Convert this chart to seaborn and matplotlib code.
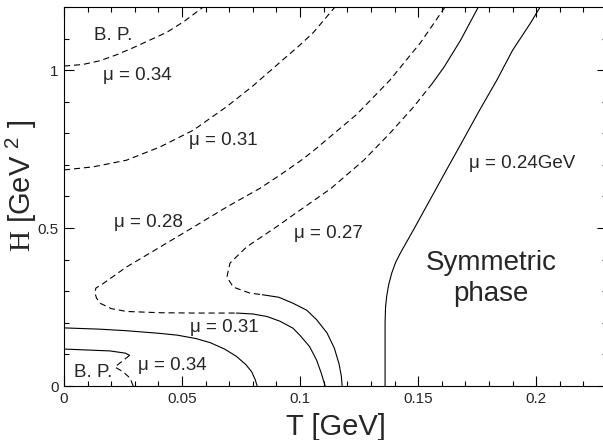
import numpy as np
import pandas as pd
import seaborn as sns
import matplotlib
matplotlib.use("Agg")
from matplotlib import pyplot as plt
from matplotlib.ticker import MultipleLocator

# phase boundaries: T [GeV], H [GeV^2]
# mu = 0.34, B.P. boundary at large H (dashed)
t_034_top = [0, 0.008, 0.0153, 0.022, 0.029, 0.036, 0.0436, 0.051, 0.059]
h_034_top = [1.013, 1.018, 1.03, 1.048, 1.07, 1.094, 1.12, 1.155, 1.2]

# mu = 0.31, B.P. boundary at large H (dashed)
t_031_top = [0, 0.0124, 0.0265, 0.0407, 0.0548, 0.069, 0.08, 0.0915, 0.1, 0.1057, 0.1148]
h_031_top = [0.684, 0.694, 0.715, 0.757, 0.81, 0.885, 0.95, 1.025, 1.08, 1.12, 1.2]

# mu = 0.28 (dashed part, then solid part)
t_028_dash = [0.1614, 0.151, 0.138, 0.124, 0.1057, 0.1, 0.0915, 0.083, 0.069, 0.0548,
              0.0407, 0.0265, 0.0167, 0.0135, 0.0131, 0.0138, 0.0153, 0.02, 0.0265,
              0.0407, 0.0548, 0.073]
h_028_dash = [1.2, 1.087, 0.968, 0.86, 0.745, 0.712, 0.668, 0.626, 0.567, 0.503,
              0.44, 0.377, 0.325, 0.31, 0.294, 0.278, 0.262, 0.245, 0.236,
              0.232, 0.231, 0.231]
t_028_sol = [0.073, 0.08, 0.086, 0.0915, 0.097, 0.1, 0.104, 0.107, 0.109, 0.1106]
h_028_sol = [0.231, 0.228, 0.22, 0.205, 0.183, 0.16, 0.125, 0.082, 0.04, 0.0]

# mu = 0.27 (solid top, dashed middle, solid bottom)
t_027_top = [0.1755, 0.168, 0.161, 0.156]
h_027_top = [1.2, 1.095, 1.01, 0.958]
t_027_dash = [0.156, 0.148, 0.138, 0.127, 0.113, 0.1, 0.09, 0.0773, 0.0703, 0.069,
              0.0717, 0.0788, 0.084]
h_027_dash = [0.958, 0.883, 0.8, 0.715, 0.625, 0.557, 0.504, 0.44, 0.389, 0.345,
              0.313, 0.294, 0.289]
t_027_sol = [0.084, 0.091, 0.097, 0.1028, 0.107, 0.1114, 0.1145, 0.1165, 0.1175, 0.1178]
h_027_sol = [0.289, 0.281, 0.262, 0.24, 0.21, 0.168, 0.12, 0.07, 0.03, 0.0]

# mu = 0.31 at small H (solid)
t_031_low = [0, 0.015, 0.0265, 0.04, 0.048, 0.056, 0.062, 0.068, 0.073, 0.077,
             0.0795, 0.081, 0.0818]
h_031_low = [0.184, 0.18, 0.175, 0.167, 0.161, 0.15, 0.137, 0.117, 0.094, 0.068,
             0.045, 0.02, 0.0]

# mu = 0.34 at small H (solid, then dashed)
t_034_sol = [0, 0.0195, 0.026, 0.0278]
h_034_sol = [0.117, 0.111, 0.104, 0.097]
t_034_dash = [0.0278, 0.0237, 0.0216, 0.025, 0.028, 0.0293]
h_034_dash = [0.097, 0.073, 0.06, 0.045, 0.025, 0.0]

# mu = 0.24 (solid)
t_024 = [0.136, 0.136, 0.136, 0.1362, 0.1367, 0.1375, 0.1388, 0.1404, 0.1424, 0.148,
         0.155, 0.162, 0.169, 0.176, 0.1833, 0.19, 0.1975, 0.2017]
h_024 = [0.0, 0.1, 0.2, 0.25, 0.285, 0.32, 0.357, 0.39, 0.42, 0.494,
         0.589, 0.684, 0.778, 0.873, 0.968, 1.063, 1.148, 1.2]

solid = [(t_028_sol, h_028_sol), (t_027_top, h_027_top), (t_027_sol, h_027_sol),
         (t_031_low, h_031_low), (t_034_sol, h_034_sol), (t_024, h_024)]
dashed = [(t_034_top, h_034_top), (t_031_top, h_031_top), (t_028_dash, h_028_dash),
          (t_027_dash, h_027_dash), (t_034_dash, h_034_dash)]

sns.set_style("ticks")
plt.rcParams['font.family'] = ['Liberation Sans', 'DejaVu Sans']
plt.rcParams['mathtext.fontset'] = 'custom'
plt.rcParams['mathtext.rm'] = 'Liberation Serif'
plt.rcParams['mathtext.sf'] = 'Liberation Sans'

fig = plt.figure(figsize=(6.03, 4.40), dpi=100)
ax = fig.add_axes([64 / 603, 54 / 440, 543 / 603, 379 / 440])

for t, h in solid:
    sns.lineplot(x=t, y=h, sort=False, estimator=None, color='k', lw=0.8, ax=ax)
for t, h in dashed:
    sns.lineplot(x=t, y=h, sort=False, estimator=None, color='k', lw=0.8,
                 linestyle=(0, (5.5, 3.5)), ax=ax)

ax.set_xlim(0, 0.23)
ax.set_ylim(0, 1.2)
ax.set_xticks([0, 0.05, 0.1, 0.15, 0.2])
ax.set_xticklabels(['0', '0.05', '0.1', '0.15', '0.2'])
ax.set_yticks([0, 0.5, 1])
ax.set_yticklabels(['0', '0.5', '1'])
ax.xaxis.set_minor_locator(MultipleLocator(0.01))
ax.yaxis.set_minor_locator(MultipleLocator(0.1))
ax.tick_params(which='both', direction='in', top=True, right=True, labelsize=11,
               width=0.8, color='k')
ax.tick_params(which='major', length=7, pad=4)
ax.tick_params(which='minor', length=3.5)
for s in ax.spines.values():
    s.set_linewidth(0.8)
    s.set_color('k')

ax.set_xlabel('T [GeV]', fontsize=21)
ax.set_ylabel(r'$\mathrm{H}$ [GeV $^{\mathsf{2}}$ ]', fontsize=21)
ax.xaxis.set_label_coords(0.5, -0.07)
ax.yaxis.set_label_coords(-0.046, 0.528)

fs = 13.5
ax.text(0.021, 1.11, 'B. P.', fontsize=fs, ha='center', va='center')
ax.text(0.031, 0.984, 'μ = 0.34', fontsize=fs, ha='center', va='center')
ax.text(0.0675, 0.778, 'μ = 0.31', fontsize=fs, ha='center', va='center')
ax.text(0.0356, 0.519, 'μ = 0.28', fontsize=fs, ha='center', va='center')
ax.text(0.112, 0.483, 'μ = 0.27', fontsize=fs, ha='center', va='center')
ax.text(0.194, 0.705, 'μ = 0.24GeV', fontsize=fs, ha='center', va='center')
ax.text(0.068, 0.184, 'μ = 0.31', fontsize=fs, ha='center', va='center')
ax.text(0.046, 0.066, 'μ = 0.34', fontsize=fs, ha='center', va='center')
ax.text(0.0125, 0.044, 'B. P.', fontsize=fs, ha='center', va='center')
ax.text(0.181, 0.34, 'Symmetric\nphase', fontsize=20, ha='center', va='center',
        linespacing=1.25)

fig.savefig('out.png', dpi=100)
